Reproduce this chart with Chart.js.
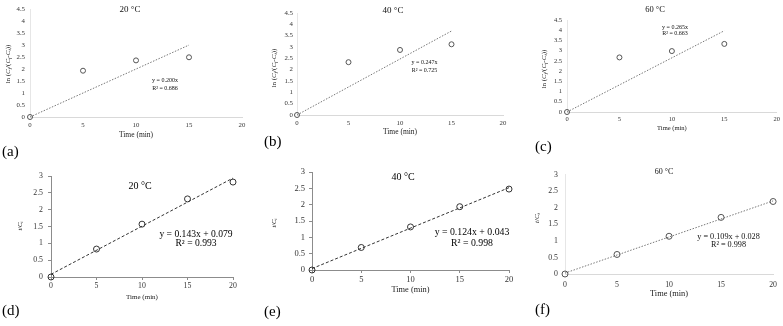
<!DOCTYPE html>
<html>
<head>
<meta charset="utf-8">
<script src="https://cdn.jsdelivr.net/npm/chart.js@4.4.0/dist/chart.umd.min.js"></script>
<style>
  body { margin: 0; background: #fff; }
  #wrap { position: relative; width: 783px; height: 326px; overflow: hidden; }
  canvas { position: absolute; }
  .lbl { position: absolute; font-family: "Liberation Serif", serif; font-size: 15px; line-height: 15px; color: #000; }
</style>
</head>
<body>
<div id="wrap">
  <canvas id="pa" width="261" height="163" style="left:0px;top:0px"></canvas>
  <canvas id="pb" width="261" height="163" style="left:261px;top:0px"></canvas>
  <canvas id="pc" width="261" height="163" style="left:522px;top:0px"></canvas>
  <canvas id="pd" width="261" height="163" style="left:0px;top:163px"></canvas>
  <canvas id="pe" width="261" height="163" style="left:261px;top:163px"></canvas>
  <canvas id="pf" width="261" height="163" style="left:522px;top:163px"></canvas>
  <div class="lbl" style="left:2px;top:144px">(a)</div>
  <div class="lbl" style="left:264px;top:134px">(b)</div>
  <div class="lbl" style="left:535px;top:139px">(c)</div>
  <div class="lbl" style="left:2px;top:303px">(d)</div>
  <div class="lbl" style="left:264px;top:304px">(e)</div>
  <div class="lbl" style="left:535px;top:302px">(f)</div>
</div>
<script>
// sampling times (min)
const timeTop = [0, 5, 10, 15];
const timeBottom = [0, 5, 10, 15, 20];

// ln(Cf/(Cf-Ct)) at 20, 40, 60 °C
const ln20 = [0, 1.93, 2.36, 2.49];
const ln40 = [0, 2.33, 2.87, 3.12];
const ln60 = [0, 2.67, 2.98, 3.33];

// t/Ct at 20, 40, 60 °C
const tc20 = [0, 0.83, 1.57, 2.32, 2.82];
const tc40 = [0, 0.69, 1.32, 1.94, 2.48];
const tc60 = [0, 0.59, 1.14, 1.71, 2.19];

// trendline ends (x, y) as drawn
const fitXTop = [0, 15];
const fitXBottom = [0, 20];
const fitLn20 = [0, 3.0];
const fitLn40 = [0, 3.705];
const fitLn60 = [0, 3.975];
const fitTc20 = [0.079, 2.939];
const fitTc40 = [0.043, 2.523];
const fitTc60 = [0.028, 2.208];

const tempLabels = ['20 °C', '40 °C', '60 °C'];
const eqTop = ['y = 0.200x', 'y = 0.247x', 'y = 0.265x'];
const r2Top = ['R² = 0.686', 'R² = 0.725', 'R² = 0.663'];
const eqBottom = ['y = 0.143x + 0.079', 'y = 0.124x + 0.043', 'y = 0.109x + 0.028'];
const r2Bottom = ['R² = 0.993', 'R² = 0.998', 'R² = 0.998'];
const xTicksMax = 20;
const yMaxTop = 4.5;
const yMaxBottom = 3;

const serif = '"Liberation Serif", "Times New Roman", serif';

function pairs(xs, ys) {
  return xs.map((x, i) => ({x: x, y: ys[i]}));
}

// rich text: [text, italic, subscript]
const yTitleTop = [['ln (', 0, 0], ['C', 1, 0], ['f', 1, 1], ['/(', 0, 0], ['C', 1, 0], ['f', 1, 1], ['-', 0, 0], ['C', 1, 0], ['t', 1, 1], ['))', 0, 0]];
const yTitleBottom = [['t', 1, 0], ['/', 0, 0], ['C', 1, 0], ['t', 1, 1]];

function drawRich(ctx, segs, cx, cy, size) {
  ctx.save();
  ctx.translate(cx, cy);
  ctx.rotate(-Math.PI / 2);
  ctx.textBaseline = 'middle';
  ctx.textAlign = 'left';
  let total = 0;
  const fonts = segs.map(s => {
    const sz = s[2] ? size * 0.7 : size;
    const f = (s[1] ? 'italic ' : '') + sz + 'px ' + serif;
    ctx.font = f;
    total += ctx.measureText(s[0]).width;
    return f;
  });
  let x = -total / 2;
  segs.forEach((s, i) => {
    ctx.font = fonts[i];
    ctx.fillText(s[0], x, s[2] ? size * 0.25 : 0);
    x += ctx.measureText(s[0]).width;
  });
  ctx.restore();
}

const panelText = {
  id: 'panelText',
  afterDraw(chart, args, o) {
    const ctx = chart.ctx;
    ctx.save();
    ctx.fillStyle = o.color;
    ctx.textAlign = 'center';
    ctx.textBaseline = 'middle';
    ctx.font = o.titleSize + 'px ' + serif;
    ctx.fillText(o.title, o.titleAt[0], o.titleAt[1]);
    ctx.font = o.eqSize + 'px ' + serif;
    ctx.fillText(o.eq, o.eqAt[0], o.eqAt[1]);
    ctx.fillText(o.r2, o.eqAt[0], o.eqAt[2]);
    drawRich(ctx, o.yTitle, o.yTitleAt[0], o.yTitleAt[1], o.yTitleSize);
    ctx.restore();
  }
};

function makePanel(id, p) {
  const tickFont = {family: serif, size: p.tickSize};
  const plain = v => String(v);
  new Chart(document.getElementById(id), {
    type: 'scatter',
    data: {
      datasets: [{
        data: p.points,
        showLine: false,
        clip: false,
        pointRadius: p.r,
        pointBorderWidth: 1,
        pointBorderColor: p.ptColor,
        pointBackgroundColor: 'rgba(255,255,255,0)'
      }, {
        data: p.fit,
        showLine: true,
        clip: false,
        borderColor: p.lineColor,
        borderWidth: 1,
        borderDash: p.dash,
        pointRadius: 0,
        fill: false
      }]
    },
    options: {
      responsive: false,
      animation: false,
      devicePixelRatio: 1,
      layout: {padding: {left: 0, top: p.padTop, right: p.padRight, bottom: 0}},
      plugins: {
        legend: {display: false},
        tooltip: {enabled: false},
        panelText: p.text
      },
      scales: {
        x: {
          type: 'linear', min: 0, max: xTicksMax,
          ticks: {stepSize: 5, autoSkip: false, maxRotation: 0, padding: p.xTickPad, font: tickFont, color: '#333', callback: plain},
          grid: {display: p.marks, drawOnChartArea: false, drawTicks: p.marks, tickLength: 3, color: p.axisColor},
          border: {display: true, color: p.axisColor},
          title: {display: true, text: 'Time (min)', color: '#222', font: {family: serif, size: p.xTitleSize}, padding: {top: 0, bottom: p.xTitlePad}},
          afterFit: s => { s.height = p.xH; }
        },
        y: {
          type: 'linear', min: 0, max: p.yMax,
          ticks: {stepSize: 0.5, autoSkip: false, padding: p.yTickPad, font: tickFont, color: '#333', callback: plain},
          grid: {display: p.marks, drawOnChartArea: false, drawTicks: p.marks, tickLength: 3, color: p.axisColor},
          border: {display: true, color: p.yAxisColor},
          afterFit: s => { s.width = p.yW; }
        }
      }
    },
    plugins: [panelText]
  });
}

const topStyle = {r: 2.5, ptColor: '#555', lineColor: '#777', dash: [1.5, 1.5], marks: false, axisColor: '#d9d9d9', yAxisColor: '#e6e6e6', yMax: yMaxTop};

makePanel('pa', Object.assign({}, topStyle, {
  points: pairs(timeTop, ln20), fit: pairs(fitXTop, fitLn20),
  yW: 30, padTop: 7, padRight: 19, xH: 46,
  tickSize: 6.8, xTickPad: 4, yTickPad: 5, xTitleSize: 7.5, xTitlePad: 23.5,
  text: {color: '#111', title: tempLabels[0], titleAt: [130, 10], titleSize: 9,
    eq: eqTop[0], r2: r2Top[0], eqAt: [165, 80, 88], eqSize: 6,
    yTitle: yTitleTop, yTitleAt: [8, 64], yTitleSize: 7}
}));

makePanel('pb', Object.assign({}, topStyle, {
  points: pairs(timeTop, ln40), fit: pairs(fitXTop, fitLn40),
  yW: 36, padTop: 13, padRight: 19, xH: 48,
  tickSize: 6.8, xTickPad: 4, yTickPad: 4, xTitleSize: 7.5, xTitlePad: 26.5,
  text: {color: '#111', title: tempLabels[1], titleAt: [132, 11], titleSize: 9,
    eq: eqTop[1], r2: r2Top[1], eqAt: [163.5, 62, 70.7], eqSize: 6,
    yTitle: yTitleTop, yTitleAt: [13, 68], yTitleSize: 7}
}));

makePanel('pc', Object.assign({}, topStyle, {
  points: pairs(timeTop, ln60), fit: pairs(fitXTop, fitLn60),
  yW: 45, padTop: 20, padRight: 5, xH: 51,
  tickSize: 6.5, xTickPad: 3, yTickPad: 5, xTitleSize: 6.5, xTitlePad: 31,
  text: {color: '#111', title: tempLabels[2], titleAt: [133, 10], titleSize: 8.5,
    eq: eqTop[2], r2: r2Top[2], eqAt: [153, 27, 33.5], eqSize: 6,
    yTitle: yTitleTop, yTitleAt: [22, 69], yTitleSize: 7}
}));

const bottomStyle = {r: 3, ptColor: '#333', lineColor: '#333', dash: [3, 2], marks: true, axisColor: '#8c8c8c', yAxisColor: '#8c8c8c', yMax: yMaxBottom};

makePanel('pd', Object.assign({}, bottomStyle, {
  points: pairs(timeBottom, tc20), fit: pairs(fitXBottom, fitTc20),
  yW: 51, padTop: 13, padRight: 28, xH: 49,
  tickSize: 7.8, xTickPad: 1, yTickPad: 5, xTitleSize: 7, xTitlePad: 25,
  text: {color: '#000', title: tempLabels[0], titleAt: [140, 23], titleSize: 10,
    eq: eqBottom[0], r2: r2Bottom[0], eqAt: [196, 71, 80], eqSize: 9.6,
    yTitle: yTitleBottom, yTitleAt: [20, 63], yTitleSize: 6.5}
}));

makePanel('pe', Object.assign({}, bottomStyle, {
  points: pairs(timeBottom, tc40), fit: pairs(fitXBottom, fitTc40),
  yW: 51, padTop: 7, padRight: 13, xH: 56,
  tickSize: 8.5, xTickPad: 2, yTickPad: 4, xTitleSize: 8.4, xTitlePad: 31,
  text: {color: '#000', title: tempLabels[1], titleAt: [142, 14], titleSize: 10,
    eq: eqBottom[1], r2: r2Bottom[1], eqAt: [211, 69, 80], eqSize: 9.8,
    yTitle: yTitleBottom, yTitleAt: [13, 60], yTitleSize: 6.5}
}));

makePanel('pf', Object.assign({}, topStyle, {
  yMax: yMaxBottom, r: 3,
  points: pairs(timeBottom, tc60), fit: pairs(fitXBottom, fitTc60),
  yW: 43, padTop: 5, padRight: 6, xH: 52,
  tickSize: 7.8, xTickPad: 6, yTickPad: 7, xTitleSize: 8.4, xTitlePad: 27,
  text: {color: '#111', title: tempLabels[2], titleAt: [142, 9], titleSize: 8,
    eq: eqBottom[2], r2: r2Bottom[2], eqAt: [206.5, 74, 82], eqSize: 8.2,
    yTitle: yTitleBottom, yTitleAt: [15, 55], yTitleSize: 7}
}));
</script>
</body>
</html>
